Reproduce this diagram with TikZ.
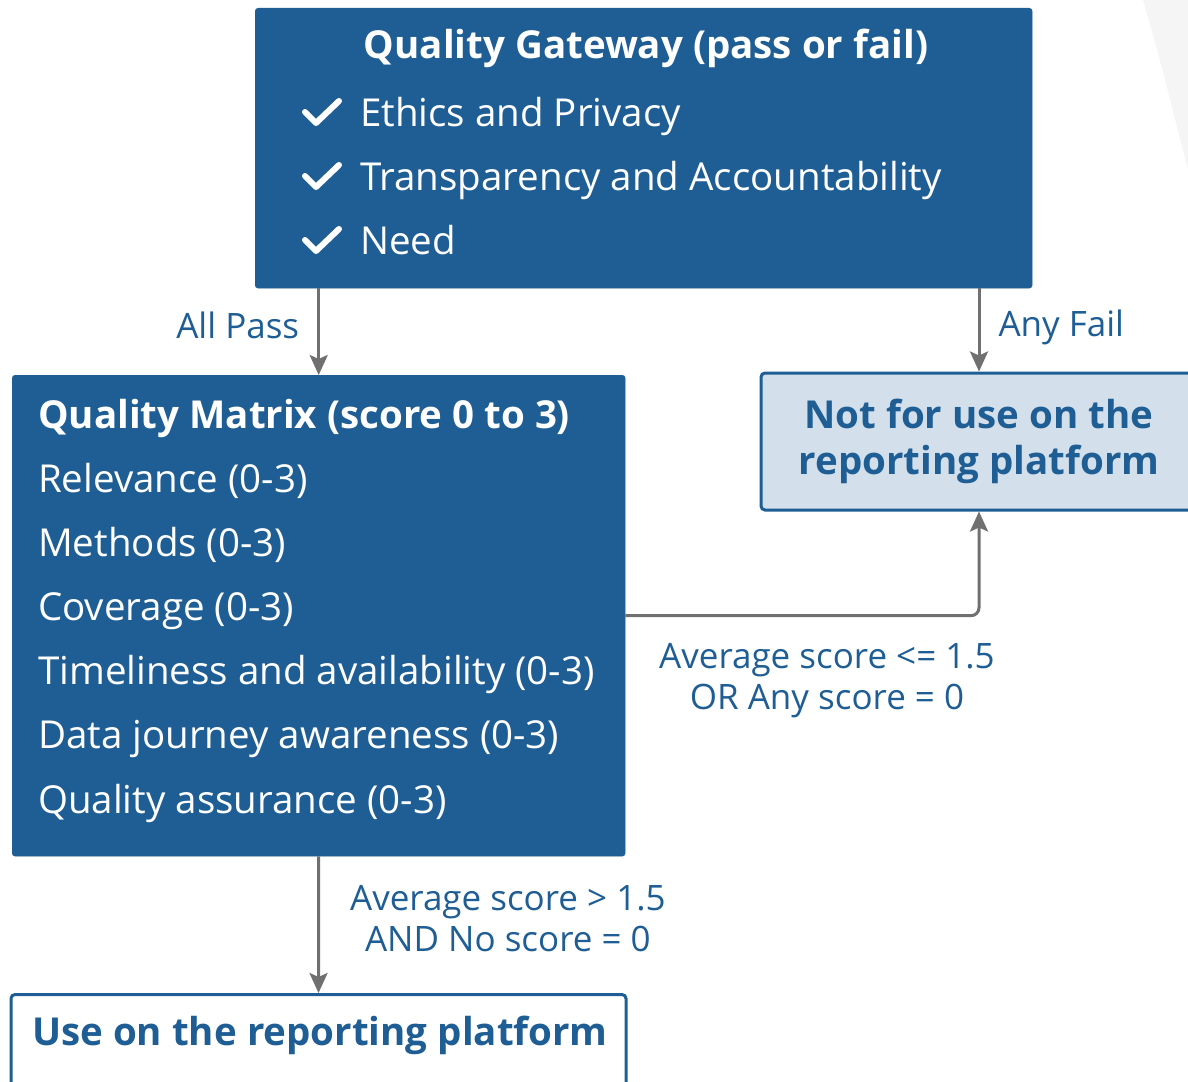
\documentclass[tikz,border=0pt]{standalone}
\usepackage{fontspec}
\setmainfont{Open Sans}
\usetikzlibrary{arrows.meta,positioning,calc}
\definecolor{qblue}{HTML}{1F5E94}
\definecolor{qlight}{HTML}{D3DFEB}
\definecolor{qgrey}{HTML}{707070}
\newcommand{\qbody}{\fontsize{38.5}{44}\selectfont}
\newcommand{\qhead}{\fontsize{38.5}{44}\selectfont\bfseries}
\newcommand{\qboxfont}{\fontsize{38.5}{46}\selectfont\bfseries}
\newcommand{\qsmall}{\fontsize{35}{41}\selectfont}

\begin{document}
\begin{tikzpicture}[x=1pt, y=-1pt,
  qbox/.style={fill=qblue, draw=qblue, rounded corners=3pt, inner sep=0pt},
  qlightbox/.style={fill=qlight, draw=qblue, line width=3pt, rounded corners=4pt, inner sep=0pt, text=qblue, font=\qboxfont, align=center},
  qwhitebox/.style={fill=white, draw=qblue, line width=3pt, rounded corners=4pt, inner sep=0pt},
  qarrow/.style={draw=qgrey, line width=3pt, -{Stealth[length=20pt, width=18pt, inset=4pt]}},
  qlabel/.style={text=qblue, font=\qsmall, align=center, inner sep=0pt},
  qlabelone/.style={qlabel, text height=0.75em, text depth=0.25em},
  wtext/.style={text=white, font=\qbody, anchor=base west, inner sep=0pt},
  qtick/.style={draw=white, line width=6pt, line cap=round, line join=round}
]
  \useasboundingbox (0,0) rectangle (1188,1081);
  \clip (0,0) rectangle (1188,1081);

  % faint background corner
  \fill[black!4] (1143,0) .. controls (1160,60) .. (1188,170) -- (1188,0) -- cycle;

  % Quality gateway
  \node[qbox, minimum width=777pt, minimum height=280pt, anchor=north west] (gate) at (255,8) {};
  \node[text=white, font=\qhead, inner sep=0pt] (gatetitle) at (646,48) {Quality Gateway (pass or fail)};
  \foreach \txt [count=\i] in {Ethics and Privacy, Transparency and Accountability, Need} {
    \pgfmathsetmacro{\yy}{113+(\i-1)*64}
    \draw[qtick] (305,\yy-1) -- (316,\yy+10) -- (339,\yy-12);
    \node[wtext] (gateitem\i) at (360,\yy+13) {\txt};
  }

  % Quality matrix
  \node[qbox, minimum width=613pt, minimum height=481pt, anchor=north west] (matrix) at (12,375) {};
  \node[wtext, font=\qhead] (matrixtitle) at (38,428) {Quality Matrix (score 0 to 3)};
  \foreach \txt [count=\i] in {Relevance (0-3), Methods (0-3), Coverage (0-3),
      Timeliness and availability (0-3), Data journey awareness (0-3), Quality assurance (0-3)} {
    \pgfmathsetmacro{\yy}{479+(\i-1)*64.2}
    \node[wtext] (matrixitem\i) at (38,\yy+13) {\txt};
  }

  % Outcomes
  \node[qlightbox, minimum width=436pt, minimum height=137pt] (notuse) at (979,441.5) {Not for use on the\\reporting platform};
  \node[qwhitebox, minimum width=615pt, minimum height=120pt, anchor=north] (useplat) at (318.5,993) {};
  \node[text=qblue, font=\qhead, inner sep=0pt] (useplattext) at (320,1035) {Use on the reporting platform};

  % Connectors
  \draw[qarrow] (gate.south -| matrix.north) -- node[qlabelone, pos=0.55, left=18pt] {All Pass} (matrix.north);
  \draw[qarrow] (gate.south -| notuse.north) -- node[qlabelone, pos=0.55, right=18pt] {Any Fail} (notuse.north);
  \draw[qarrow, rounded corners=8pt] (matrix.east) -| node[qlabel, pos=0.285, below=26pt] {Average score <= 1.5\\OR Any score = 0} (notuse.south);
  \draw[qarrow] (matrix.south) -- node[qlabel, pos=0.456, right=30pt] {Average score > 1.5\\AND No score = 0} (useplat.north);
\end{tikzpicture}
\end{document}
